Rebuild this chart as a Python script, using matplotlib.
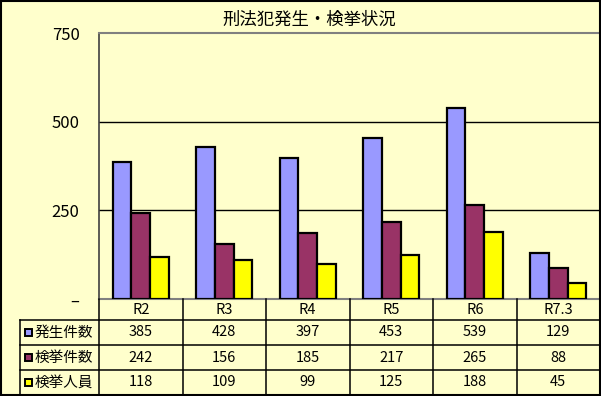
import numpy as np
import matplotlib.pyplot as plt
from matplotlib.patches import Rectangle

plt.rcParams['font.family'] = ['Noto Sans CJK JP', 'DejaVu Sans']

categories = ['R2', 'R3', 'R4', 'R5', 'R6', 'R7.3']
series_names = ['発生件数', '検挙件数', '検挙人員']
occurred = [385, 428, 397, 453, 539, 129]
cleared = [242, 156, 185, 217, 265, 88]
arrested = [118, 109, 99, 125, 188, 45]
series = [occurred, cleared, arrested]
colors = ['#9999FF', '#993366', '#FFFF00']
yticks = [0, 250, 500, 750]
ytick_labels = ['–', '250', '500', '750']

bg = '#FFFFCC'
W, H = 601, 396
fig = plt.figure(figsize=(W / 100, H / 100), dpi=100, facecolor=bg)

# pixel layout
left, right, top, bottom = 99, 600, 33, 299
row_h = [299, 320, 345, 370, 395]
label_x = 20

ax = fig.add_axes([left / W, 1 - bottom / H, (right - left) / W, (bottom - top) / H])
ax.set_facecolor(bg)
n = len(categories)
x = np.arange(n)
bw = 1 / 4.5
for i, vals in enumerate(series):
    ax.bar(x + (i - 1) * bw, vals, width=bw, color=colors[i], edgecolor='black',
           linewidth=1.6, zorder=3)
ax.set_xlim(-0.5, n - 0.5)
ax.set_ylim(0, 750)
ax.set_yticks(yticks)
ax.set_yticklabels(ytick_labels, fontsize=12)
ax.tick_params(axis='y', length=0, pad=14)
ax.set_xticks([])
for v in yticks[1:3]:
    ax.axhline(v, color='black', linewidth=1, zorder=1)
ax.spines['top'].set_color('#808080')
ax.spines['top'].set_linewidth(1.5)
ax.spines['right'].set_visible(False)
ax.spines['left'].set_color('#404040')
ax.spines['left'].set_linewidth(1.2)
ax.spines['bottom'].set_color('#808080')
ax.spines['bottom'].set_linewidth(1.5)

fig.text(0.515, 1 - 20 / H, '刑法犯発生・検挙状況', ha='center', va='center', fontsize=12.5)

# data table below the chart
tab = fig.add_axes([0, 0, 1, 1], facecolor='none')
tab.set_xlim(0, W)
tab.set_ylim(H, 0)
tab.axis('off')
col_w = (right - left) / n
lw = 1.1
for k in range(n + 1):
    xx = left + k * col_w
    tab.plot([xx, xx], [row_h[0], row_h[-1]], color='black', lw=lw)
tab.plot([label_x, label_x], [row_h[1], row_h[-1]], color='black', lw=lw)
for r in row_h[1:]:
    tab.plot([label_x, right], [r, r], color='black', lw=lw)
for k, c in enumerate(categories):
    tab.text(left + (k + 0.5) * col_w, (row_h[0] + row_h[1]) / 2 + 1, c,
             ha='center', va='center', fontsize=10.5)
for i, vals in enumerate(series):
    yc = (row_h[i + 1] + row_h[i + 2]) / 2
    tab.add_patch(Rectangle((25, yc - 4), 7, 7, facecolor=colors[i], edgecolor='black', lw=1.4))
    tab.text(35, yc, series_names[i], ha='left', va='center', fontsize=10.5)
    for k, v in enumerate(vals):
        tab.text(left + (k + 0.5) * col_w, yc, str(v), ha='center', va='center', fontsize=10.5)

# outer border
tab.add_patch(Rectangle((0.5, 0.5), W - 1.5, H - 1.5, fill=False, edgecolor='black', lw=1.5))

fig.savefig('out.png', dpi=100, facecolor=bg)
